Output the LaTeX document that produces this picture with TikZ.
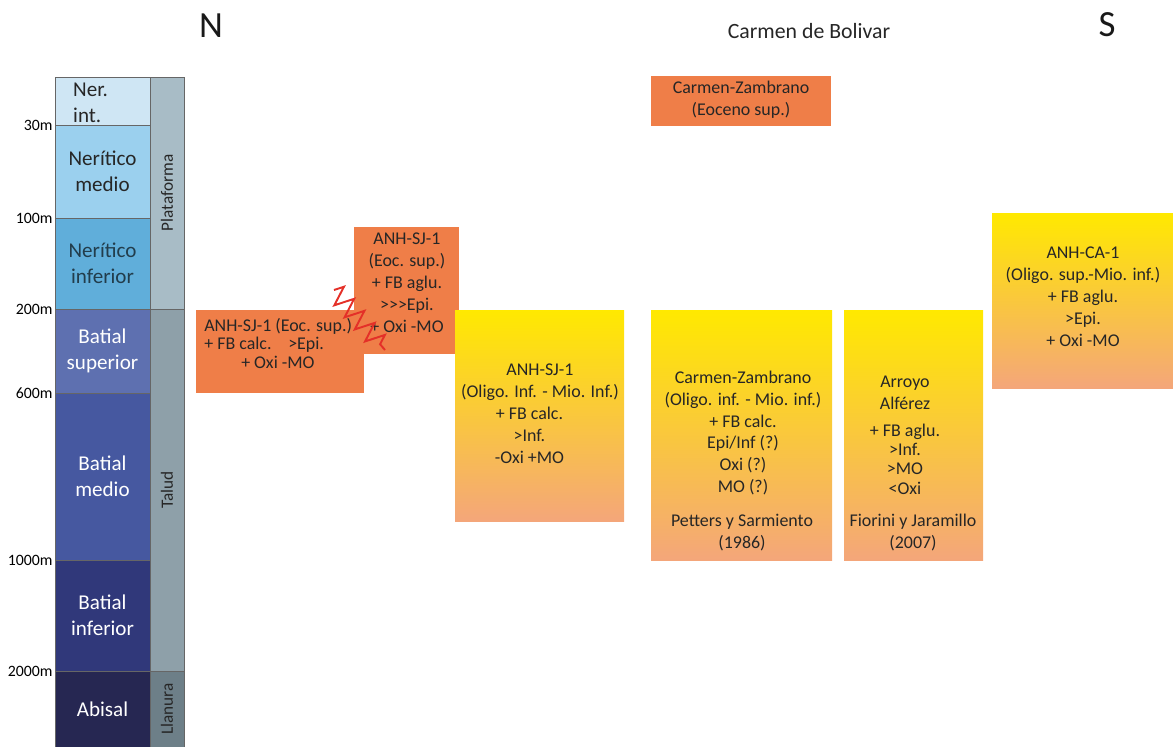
\documentclass[tikz,border=0pt]{standalone}
\usepackage{fontspec}
\setmainfont{Carlito}
\usetikzlibrary{fit,decorations.pathmorphing}

\definecolor{colNerInt}{RGB}{207,230,244}
\definecolor{colNerMed}{RGB}{155,208,238}
\definecolor{colNerInf}{RGB}{96,174,218}
\definecolor{colBatSup}{RGB}{94,112,176}
\definecolor{colBatMed}{RGB}{70,88,160}
\definecolor{colBatInf}{RGB}{48,56,122}
\definecolor{colAbisal}{RGB}{38,39,82}
\definecolor{colPlataf}{RGB}{168,188,198}
\definecolor{colTalud}{RGB}{142,160,169}
\definecolor{colLlanura}{RGB}{109,127,136}
\definecolor{boxOrange}{RGB}{239,126,72}
\definecolor{boxYellow}{RGB}{255,233,0}
\definecolor{boxAmber}{RGB}{247,186,88}
\definecolor{boxPeach}{RGB}{244,166,122}
\definecolor{faultRed}{RGB}{228,48,40}

\tikzset{
  zone/.style      = {rectangle, draw=black!60, line width=0.4pt, inner sep=0pt},
  zonetext/.style  = {align=center, font=\fontsize{12}{14.7}\selectfont, text=white},
  depth/.style     = {anchor=east, inner sep=1pt, font=\fontsize{9}{10}\selectfont},
  realm/.style     = {rotate=90, font=\fontsize{9.8}{11}\selectfont, text=black!85},
  orangebox/.style = {rectangle, inner sep=0pt, fill=boxOrange},
  yellowbox/.style = {rectangle, inner sep=0pt, top color=boxYellow,
                      middle color=boxAmber, bottom color=boxPeach},
  boxtext/.style   = {align=center, inner sep=0pt, text=black!85,
                      font=\fontsize{10.2}{12.5}\selectfont},
  heading/.style   = {font=\fontsize{21}{24}\selectfont, text=black!90},
  fault/.style     = {draw=faultRed, line width=1.1pt, decorate,
                      decoration={zigzag, segment length=9pt, amplitude=5.5pt}}
}

\begin{document}
\begin{tikzpicture}[x=0.02cm, y=-0.02cm]
\useasboundingbox (0,0) rectangle (1173,747);

% bathymetric column
\node[zone, fill=colNerInt, fit={(55,77) (150,125)}]  (nerint) {};
\node[zone, fill=colNerMed, fit={(55,125) (150,218)}] (nermed) {};
\node[zone, fill=colNerInf, fit={(55,218) (150,309)}] (nerinf) {};
\node[zone, fill=colBatSup, fit={(55,309) (150,393)}] (batsup) {};
\node[zone, fill=colBatMed, fit={(55,393) (150,560)}] (batmed) {};
\node[zone, fill=colBatInf, fit={(55,560) (150,671)}] (batinf) {};
\node[zone, fill=colAbisal, fit={(55,671) (150,747)}] (abisal) {};

\node[zonetext, text=black!85, align=left, anchor=west] at (67,103) {Ner.\\int.};
\node[zonetext, text=black!85] at (nermed.center) {Nerítico\\medio};
\node[zonetext, text=black!65!colNerInf] at (nerinf.center) {Nerítico\\inferior};
\node[zonetext] at (batsup.center) {Batial\\superior};
\node[zonetext] at (batmed.center) {Batial\\medio};
\node[zonetext] at (batinf.center) {Batial\\inferior};
\node[zonetext] at (abisal.center) {Abisal};

\node[depth] at (nerint.south west) {30m};
\node[depth] at (nermed.south west) {100m};
\node[depth] at (nerinf.south west) {200m};
\node[depth] at (batsup.south west) {600m};
\node[depth] at (batmed.south west) {1000m};
\node[depth] at (batinf.south west) {2000m};

% physiographic band
\node[zone, fill=colPlataf,  fit={(150,77) (184,309)}]  (plataf) {};
\node[zone, fill=colTalud,   fit={(150,309) (184,671)}] (talud) {};
\node[zone, fill=colLlanura, fit={(150,671) (184,747)}] (llanura) {};
\node[realm] at (plataf.center) {Plataforma};
\node[realm] at (talud.center) {Talud};
\node[realm] at (llanura.center) {Llanura};

% headings
\node[heading] (north) at (211,26) {N};
\node[heading] (south) at (1107,25) {S};
\node[font=\fontsize{12.4}{14}\selectfont, text=black!85] (town) at (809,31) {Carmen de Bolivar};

% assemblages
\node[orangebox, fit={(354,227) (459,354)}] (sjEocUp) {};
\node[orangebox, fit={(196,310) (364,393)}] (sjEocLow) {};
\node[orangebox, fit={(651,76) (831,126)}]  (czEoc) {};
\node[yellowbox, fit={(455,310) (624,521)}] (sjOlig) {};
\node[yellowbox, fit={(651,310) (832,560)}] (czOlig) {};
\node[yellowbox, fit={(844,310) (983,560)}] (arroyo) {};
\node[yellowbox, fit={(992,213) (1173,388)}] (caOlig) {};

\node[boxtext] at (407,283) {ANH-SJ-1\\(Eoc. sup.)\\+ FB aglu.\\>{}>{}>Epi.\\+ Oxi -MO};
\node[boxtext, align=left, anchor=west, font=\fontsize{10.2}{10.5}\selectfont]
  at (204,343.5) {ANH-SJ-1 (Eoc. sup.)\\+ FB calc.\hspace*{9.5pt}>Epi.\\\hspace*{21pt}+ Oxi -MO};
\node[boxtext] at (741,99.5) {Carmen-Zambrano\\(Eoceno sup.)};
\node[boxtext] at (540,414) {ANH-SJ-1\\(Oligo. Inf. - Mio. Inf.)\\+ FB calc.\kern12pt\\>Inf.\kern12pt\\-Oxi +MO\kern12pt};
\node[boxtext] at (743,433) {Carmen-Zambrano\\(Oligo. inf. - Mio. inf.)\\+ FB calc.\\Epi/Inf (?)\\Oxi (?)\\MO (?)};
\node[boxtext] at (742,532.5) {Petters y Sarmiento\\(1986)};
\node[boxtext] at (905,392.5) {Arroyo\\Alférez};
\node[boxtext, font=\fontsize{10.2}{11}\selectfont] at (905,459) {+ FB aglu.\\>Inf.\\>MO\\<Oxi};
\node[boxtext] at (913,532.5) {Fiorini y Jaramillo\\(2007)};
\node[boxtext] at (1083,297) {ANH-CA-1\\(Oligo. sup.-Mio. inf.)\\+ FB aglu.\\>Epi.\\+ Oxi -MO};

% contact between the two Eocene assemblages
\coordinate (faultTop) at (334,290);
\coordinate (faultBot) at (385,350);
\draw[fault] (faultTop) -- (faultBot);

\end{tikzpicture}
\end{document}
